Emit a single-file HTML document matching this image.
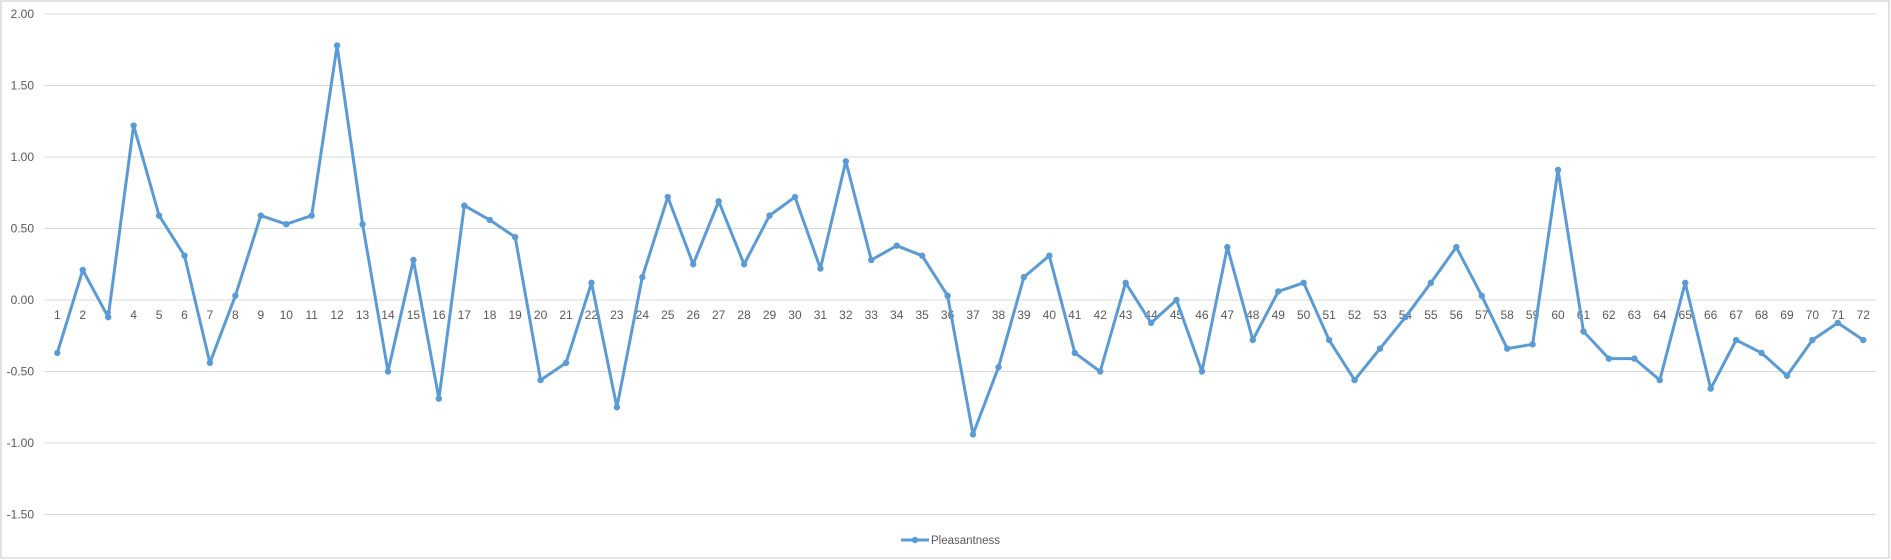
<!DOCTYPE html>
<html><head><meta charset="utf-8"><style>
html,body{margin:0;padding:0;background:#fff;}
svg{display:block;font-family:"Liberation Sans",sans-serif;}
</style></head><body>
<svg id="chart" width="1891" height="560">
<rect x="1" y="1" width="1888" height="557" fill="#fff" stroke="#d9d9d9" stroke-width="1.5"/>
<g id="grid"></g><g id="ylabels"></g><g id="xlabels"></g><g id="series"></g>
<g>
<line x1="901" y1="540" x2="929" y2="540" stroke="#5b9bd5" stroke-width="3"/>
<circle cx="915" cy="540" r="3.2" fill="#5b9bd5"/>
<text x="931" y="544" font-size="11.5" fill="#595959">Pleasantness</text>
</g>
</svg>
<script>
const yTicks=[2,1.5,1,0.5,0,-0.5,-1,-1.5];
const yTickLabels=["2.00","1.50","1.00","0.50","0.00","-0.50","-1.00","-1.50"];
const categories=Array.from({length:72},(_, i)=>String(i+1));
const values=[-0.37,0.21,-0.12,1.22,0.59,0.31,-0.44,0.03,0.59,0.53,0.59,1.78,0.53,-0.50,0.28,-0.69,0.66,0.56,0.44,-0.56,-0.44,0.12,-0.75,0.16,0.72,0.25,0.69,0.25,0.59,0.72,0.22,0.97,0.28,0.38,0.31,0.03,-0.94,-0.47,0.16,0.31,-0.37,-0.50,0.12,-0.16,0.00,-0.50,0.37,-0.28,0.06,0.12,-0.28,-0.56,-0.34,-0.12,0.12,0.37,0.03,-0.34,-0.31,0.91,-0.22,-0.41,-0.41,-0.56,0.12,-0.62,-0.28,-0.37,-0.53,-0.28,-0.16,-0.28];
const NS="http://www.w3.org/2000/svg";
const L=44.6,R=1876,Y0=300,K=143;
function y(v){return Y0-K*v;}
function x(i){const w=(R-L)/categories.length;return L+w*(i+0.5);}
function mk(t,a,p){const e=document.createElementNS(NS,t);for(const k in a)e.setAttribute(k,a[k]);p.appendChild(e);return e;}
const grid=document.getElementById('grid'),yl=document.getElementById('ylabels'),xl=document.getElementById('xlabels'),se=document.getElementById('series');
yTicks.forEach((t,i)=>{
 const g=mk('line',{x1:L,x2:R,y1:y(t),y2:y(t),stroke:'#d9d9d9','stroke-width':1},grid);
 
 
 const tx=mk('text',{x:34,y:y(t)+4,'text-anchor':'end','font-size':12,fill:'#595959'},yl);
 tx.textContent=yTickLabels[i];
 
 
});
categories.forEach((c,i)=>{
 const tx=mk('text',{x:x(i),y:319,'text-anchor':'middle','font-size':12,fill:'#595959'},xl);
 tx.textContent=c;
 
 
});
const pts=values.map((v,i)=>x(i).toFixed(1)+','+y(v).toFixed(1)).join(' ');
const pl=mk('polyline',{points:pts,fill:'none',stroke:'#5b9bd5','stroke-width':3,'stroke-linejoin':'round'},se);


values.forEach((v,i)=>{
 const c=mk('circle',{cx:x(i),cy:y(v),r:3.2,fill:'#5b9bd5'},se);
 
 
});
</script>
</body></html>
